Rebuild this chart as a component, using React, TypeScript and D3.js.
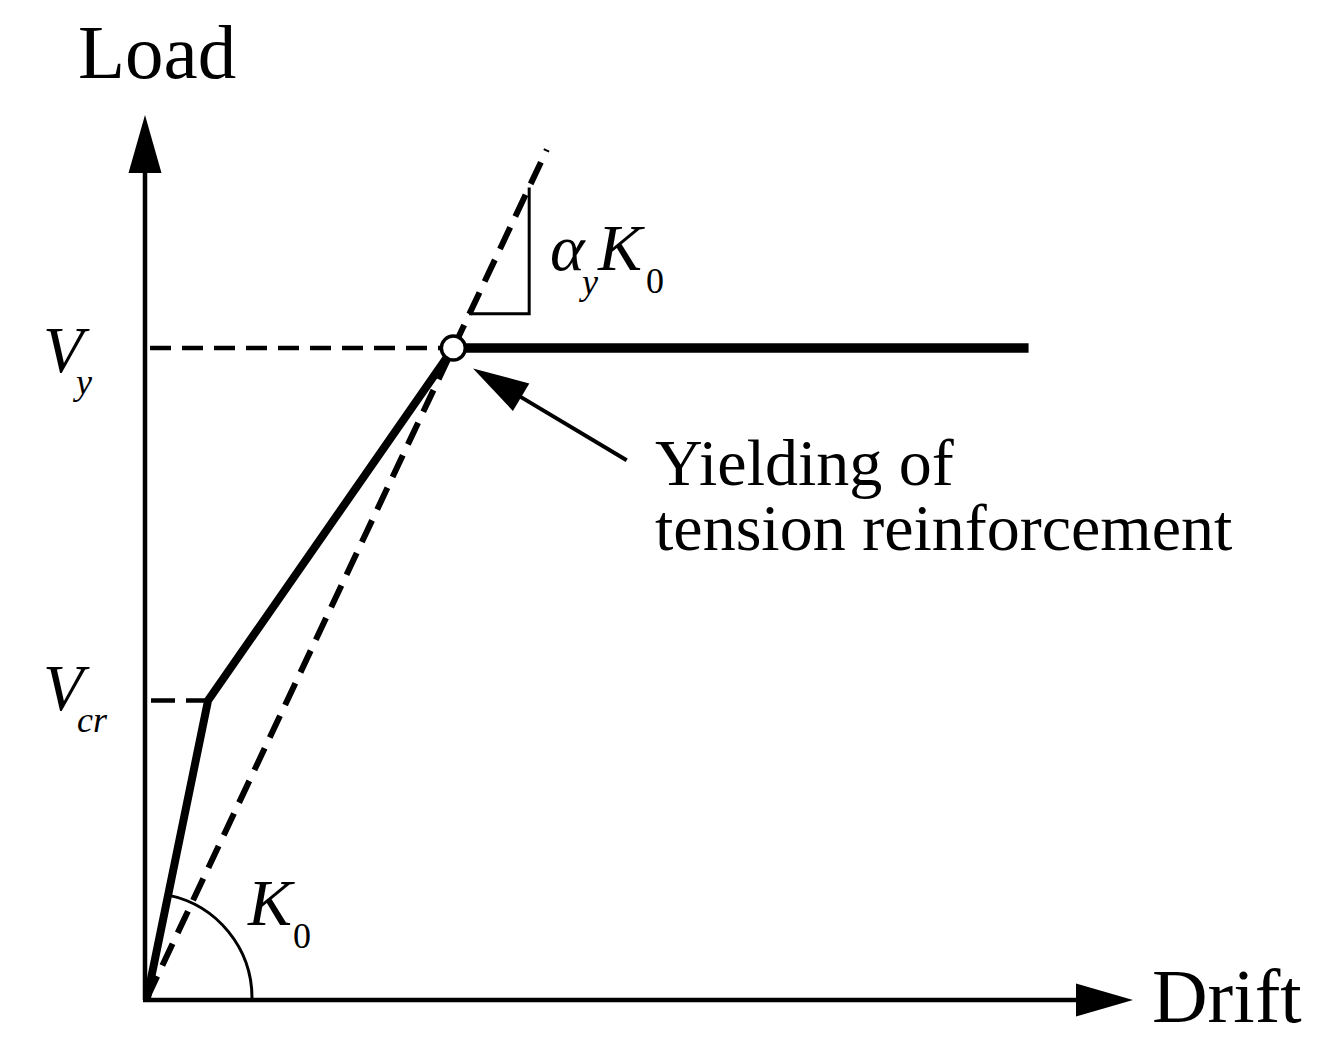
import * as d3 from "d3";

// envelope (solid) : origin -> cracking -> yielding -> plateau
const envelopeDrift = [0, 0.62, 3.11];
const envelopeLoad = [0, 3.37, 7.36];
const plateauDrift = [3.11, 8.95];
const plateauLoad = [7.36, 7.36];

// initial stiffness line K0 (dashed), through the yield point
const k0Drift = [0, 4.06];
const k0Load = [0, 9.61];

// slope triangle for alpha_y K0
const triDrift = [3.27, 3.88, 3.88];
const triLoad = [7.75, 7.75, 9.18];

const VCR = 3.37;
const VY = 7.36;
const CRACK_DRIFT = 0.62;
const YIELD_DRIFT = 3.11;

// pointer arrow: tail -> tip
const pointerDrift = [4.87, 3.31];
const pointerLoad = [6.09, 7.13];

const W = 1326;
const H = 1062;
const SERIF = "'Liberation Serif', 'Times New Roman', serif";

export default function App() {
  const x = d3.scaleLinear().domain([0, 10]).range([147, 1132]);
  const y = d3.scaleLinear().domain([0, 10]).range([998, 115]);

  const line = d3
    .line<[number, number]>()
    .x((d) => x(d[0]))
    .y((d) => y(d[1]));

  const zip = (a: number[], b: number[]) =>
    a.map((v, i) => [v, b[i]] as [number, number]);

  const ox = x(0);
  const oy = y(0);
  const axisX = ox - 2;
  const axisY = oy + 2;

  // K0 arc from drift axis up to the initial solid segment
  const r = 105;
  const dx = x(CRACK_DRIFT) - ox;
  const dy = oy - y(VCR);
  const ang = Math.atan2(dy, dx);
  const arc = d3.path();
  arc.moveTo(ox + r, oy);
  arc.arc(ox, oy, r, 0, -ang, true);

  // pointer arrow geometry
  const tx = x(pointerDrift[0]);
  const ty = y(pointerLoad[0]);
  const hx = x(pointerDrift[1]);
  const hy = y(pointerLoad[1]);
  const len = Math.hypot(hx - tx, hy - ty);
  const ux = (hx - tx) / len;
  const uy = (hy - ty) / len;
  const headL = 56;
  const headW = 16;
  const bx = hx - ux * headL;
  const by = hy - uy * headL;
  const head = `M${hx},${hy}L${bx - uy * headW},${by + ux * headW}L${bx + uy * headW},${by - ux * headW}Z`;

  return (
    <div style={{ position: "absolute", left: 0, top: 0 }}>
      <svg width={W} height={H} style={{ display: "block", background: "#fff" }}>
        {/* axes */}
        <line x1={axisX} y1={axisY} x2={axisX} y2={170} stroke="#000" strokeWidth={4.5} />
        <path d={`M${axisX},115L${axisX - 16.5},173L${axisX + 16.5},173Z`} fill="#000" />
        <line x1={axisX - 2} y1={axisY} x2={1080} y2={axisY} stroke="#000" strokeWidth={4.5} />
        <path d={`M1133,${axisY}L1076,${axisY - 16.5}L1076,${axisY + 16.5}Z`} fill="#000" />

        {/* reference dashed lines */}
        <line x1={axisX + 5} y1={y(VY)} x2={x(YIELD_DRIFT)} y2={y(VY)} stroke="#000" strokeWidth={4.5} strokeDasharray="21 11" />
        <line x1={axisX + 6} y1={y(VCR)} x2={x(CRACK_DRIFT)} y2={y(VCR)} stroke="#000" strokeWidth={4.5} strokeDasharray="24 11" />

        {/* K0 arc */}
        <path d={arc.toString()} fill="none" stroke="#000" strokeWidth={3} />

        {/* initial stiffness dashed line */}
        <path d={line(zip(k0Drift, k0Load)) || ""} fill="none" stroke="#000" strokeWidth={6} strokeDasharray="24 12" />

        {/* slope triangle */}
        <path d={line(zip(triDrift, triLoad)) || ""} fill="none" stroke="#000" strokeWidth={3} />

        {/* envelope */}
        <path d={line(zip(envelopeDrift, envelopeLoad)) || ""} fill="none" stroke="#000" strokeWidth={8} strokeLinejoin="miter" />
        <path d={line(zip(plateauDrift, plateauLoad)) || ""} fill="none" stroke="#000" strokeWidth={9.5} />
        <circle cx={x(YIELD_DRIFT)} cy={y(VY)} r={12} fill="#fff" stroke="#000" strokeWidth={3.5} />

        {/* pointer */}
        <line x1={tx} y1={ty} x2={bx + ux * 4} y2={by + uy * 4} stroke="#000" strokeWidth={4} />
        <path d={head} fill="#000" />

        {/* axis titles */}
        <text x={78} y={78} fontFamily={SERIF} fontSize={77} fill="#000">Load</text>
        <text x={1152} y={1022} fontFamily={SERIF} fontSize={77} fill="#000">Drift</text>

        {/* Vy / Vcr */}
        <text fontFamily={SERIF} fontStyle="italic" fill="#000">
          <tspan x={43} y={y(VY) + 24} fontSize={66}>V</tspan>
          <tspan x={76} y={y(VY) + 46} fontSize={36}>y</tspan>
        </text>
        <text fontFamily={SERIF} fontStyle="italic" fill="#000">
          <tspan x={43} y={y(VCR) + 10} fontSize={66}>V</tspan>
          <tspan x={77} y={y(VCR) + 32} fontSize={36}>cr</tspan>
        </text>

        {/* alpha_y K0 */}
        <text fontFamily={SERIF} fontStyle="italic" fill="#000">
          <tspan x={550} y={270} fontSize={66}>α</tspan>
          <tspan x={582} y={294} fontSize={36}>y</tspan>
          <tspan x={598} y={270} fontSize={66}>K</tspan>
          <tspan x={646} y={293} fontSize={36} fontStyle="normal">0</tspan>
        </text>

        {/* K0 */}
        <text fontFamily={SERIF} fontStyle="italic" fill="#000">
          <tspan x={248} y={925} fontSize={66}>K</tspan>
          <tspan x={293} y={948} fontSize={36} fontStyle="normal">0</tspan>
        </text>

        {/* annotation */}
        <text fontFamily={SERIF} fontSize={66} fill="#000">
          <tspan x={655} y={485}>Yielding of</tspan>
          <tspan x={655} y={550}>tension reinforcement</tspan>
        </text>
      </svg>
    </div>
  );
}
